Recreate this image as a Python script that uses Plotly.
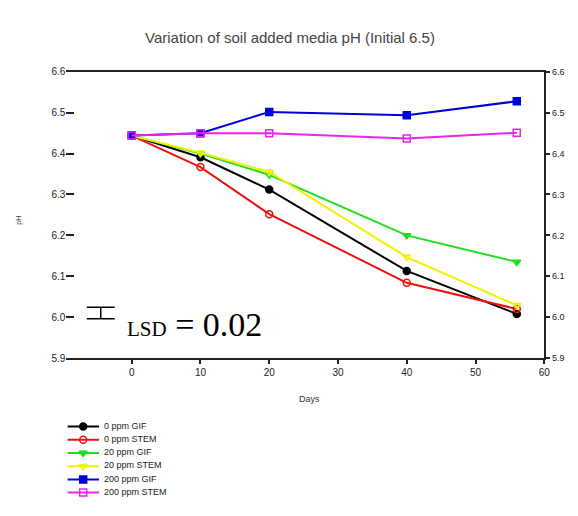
import plotly.graph_objects as go

# ---------------- data ----------------
days = [0, 10, 20, 40, 56]
series_names = ["0 ppm GIF", "0 ppm STEM", "20 ppm GIF", "20 ppm STEM",
                "200 ppm GIF", "200 ppm STEM"]
ph_0_gif = [6.444, 6.391, 6.312, 6.113, 6.008]
ph_0_stem = [6.444, 6.367, 6.252, 6.084, 6.020]
ph_20_gif = [6.444, 6.400, 6.348, 6.200, 6.135]
ph_20_stem = [6.444, 6.402, 6.355, 6.147, 6.029]
ph_200_gif = [6.444, 6.450, 6.502, 6.494, 6.528]
ph_200_stem = [6.444, 6.450, 6.450, 6.437, 6.451]
y_ticks = [5.9, 6.0, 6.1, 6.2, 6.3, 6.4, 6.5, 6.6]
x_ticks = [0, 10, 20, 30, 40, 50, 60]
lsd_x = [-4.5]
lsd_y = [6.01]
lsd_half = [0.014]

series_values = [ph_0_gif, ph_0_stem, ph_20_gif, ph_20_stem, ph_200_gif, ph_200_stem]
colors = ["#000000", "#ee1111", "#22dd22", "#f2f200", "#0000dd", "#ee22ee"]
symbols = ["circle", "circle-open", "triangle-down", "triangle-down-open",
           "square", "square-open"]

# page body has an 8px margin: draw the figure 8px smaller and shift positions
OFF = 8
W, H = 578 - OFF, 516 - OFF
def px_x(p):
    return (p - OFF) / W
def px_y(p):
    return 1 - (p - OFF) / H

fig = go.Figure()

for name, vals, c, s in zip(series_names, series_values, colors, symbols):
    fig.add_trace(go.Scatter(
        x=days, y=vals, name=name, mode="lines+markers",
        line=dict(color=c, width=2),
        marker=dict(symbol=s, size=7, color=c, line=dict(color=c, width=1.5)),
        showlegend=False, xaxis="x", yaxis="y"))

# LSD bar on the right-hand (matching) axis
fig.add_trace(go.Scatter(
    x=lsd_x, y=lsd_y, mode="markers", showlegend=False,
    marker=dict(size=1, color="rgba(0,0,0,0)"),
    error_y=dict(type="data", array=lsd_half, width=14, thickness=1.5, color="black"),
    xaxis="x", yaxis="y3", hoverinfo="skip"))

# ---------- hand-made legend in its own small subplot ----------
for i, (name, c, s) in enumerate(zip(series_names, colors, symbols)):
    fig.add_trace(go.Scatter(x=[0, 32], y=[i, i], mode="lines",
                             line=dict(color=c, width=2), showlegend=False,
                             xaxis="x2", yaxis="y2", hoverinfo="skip"))
    fig.add_trace(go.Scatter(x=[16], y=[i], mode="markers",
                             marker=dict(symbol=s, size=7, color=c,
                                         line=dict(color=c, width=1.5)),
                             showlegend=False, xaxis="x2", yaxis="y2", hoverinfo="skip"))
fig.add_trace(go.Scatter(x=[37] * len(series_names), y=list(range(len(series_names))),
                         mode="text", text=series_names, textposition="middle right",
                         textfont=dict(size=9, color="#222", family="Liberation Sans, Arial"),
                         showlegend=False, xaxis="x2", yaxis="y2", hoverinfo="skip"))

font_axis = dict(family="Liberation Sans, Arial", size=10, color="#222")

fig.update_layout(
    width=W, height=H,
    margin=dict(l=0, r=0, t=0, b=0),
    paper_bgcolor="white", plot_bgcolor="white",
    title=dict(text="Variation of soil added media pH (Initial 6.5)",
               x=px_x(290), xanchor="center", y=px_y(38), yanchor="middle",
               font=dict(family="Liberation Sans, Arial", size=15, color="#444")),
    xaxis=dict(domain=[px_x(67), px_x(550)], range=[-9.5, 60],
               tickvals=x_ticks, ticks="outside", ticklen=4, tickwidth=1.5,
               tickcolor="#222", showline=True, linecolor="#222", linewidth=2,
               mirror=True, showgrid=False, zeroline=False, tickfont=font_axis,
               anchor="y"),
    yaxis=dict(domain=[px_y(360), px_y(68)], range=[5.9, 6.6],
               tickvals=y_ticks, tickformat=".1f", ticks="inside", ticklen=8,
               tickwidth=1.5, tickcolor="#222", showline=False, showgrid=False,
               zeroline=False, tickfont=font_axis, anchor="x"),
    yaxis3=dict(overlaying="y", side="right", matches="y", range=[5.9, 6.6],
                tickvals=y_ticks, tickformat=".1f", ticks="outside", ticklen=4,
                tickwidth=1.5, tickcolor="#222", showline=True, linecolor="#222",
                linewidth=2, showgrid=False, zeroline=False,
                tickfont=dict(family="Liberation Sans, Arial", size=9, color="#222"),
                anchor="x"),
    xaxis2=dict(domain=[px_x(68), px_x(300)], range=[0, 232], visible=False,
                anchor="y2"),
    yaxis2=dict(domain=[px_y(504), px_y(423)], range=[5.5, -0.5],
                visible=False, anchor="x2"),
    annotations=[
        dict(text="<span style='font-size:21px'>LSD</span> = 0.02",
             xref="x", yref="y", x=-1.0, y=5.982, xanchor="left", yanchor="middle",
             showarrow=False,
             font=dict(family="Liberation Serif, Times New Roman", size=34, color="black")),
        dict(text="Days", xref="paper", yref="paper", x=px_x(313), y=px_y(402),
             xanchor="center", yanchor="middle", showarrow=False,
             font=dict(family="Liberation Sans, Arial", size=9, color="#333")),
        dict(text="pH", xref="paper", yref="paper", x=px_x(19), y=px_y(219),
             xanchor="center", yanchor="middle", showarrow=False, textangle=-90,
             font=dict(family="Liberation Sans, Arial", size=7, color="#333")),
    ],
)

fig.write_html("out.html")
